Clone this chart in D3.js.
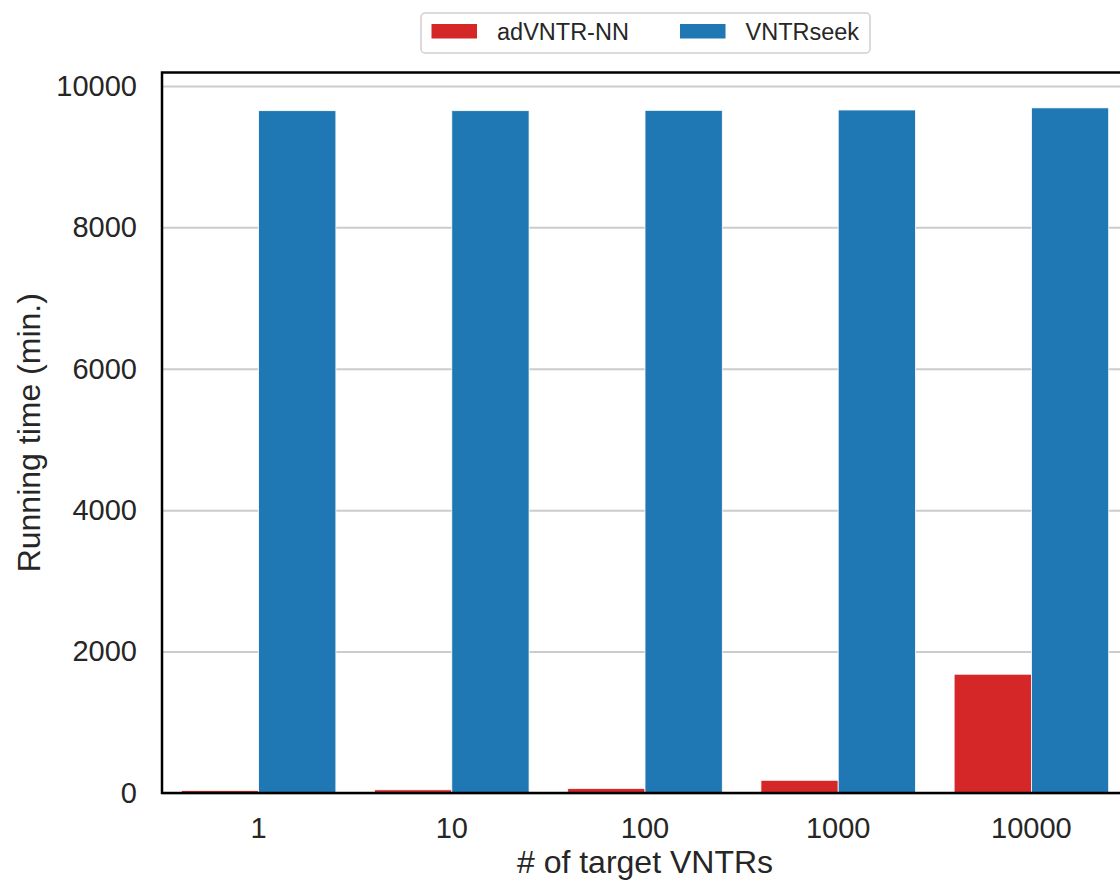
<!DOCTYPE html>
<html>
<head>
<meta charset="utf-8">
<script src="https://cdn.jsdelivr.net/npm/d3@7"></script>
<style>
  body { margin: 0; background: #fff; }
  svg { display: block; font-family: "Liberation Sans", Arial, sans-serif; }
  .tick text { fill: #262626; }
</style>
</head>
<body>
<script>
// data
const categories = ['1', '10', '100', '1000', '10000']
const series = ['adVNTR-NN', 'VNTRseek']
const adVNTR = [35, 45, 65, 180, 1680]
const vntrseek = [9650, 9650, 9655, 9660, 9690]
const yTicks = [0, 2000, 4000, 6000, 8000, 10000]
const colors = ['#d62728', '#1f77b4']

const rows = categories.map((c, i) => ({cat: c, values: [adVNTR[i], vntrseek[i]]}))

const width = 1120
const height = 884
const margin = {top: 72.5, bottom: 91, left: 162, right: -8}

const svg = d3.select('body').append('svg')
  .attr('width', width)
  .attr('height', height)

const x = d3.scaleBand()
  .domain(categories)
  .range([margin.left, width - margin.right])
  .paddingInner(0.2)
  .paddingOuter(0.1)

const xInner = d3.scaleBand()
  .domain(series)
  .range([0, x.bandwidth()])

const y = d3.scaleLinear()
  .domain([0, 10190])
  .range([height - margin.bottom, margin.top])

// gridlines
svg.append('g')
  .attr('transform', `translate(${margin.left},0)`)
  .call(d3.axisLeft(y).tickValues(yTicks).tickSize(-(width - margin.right - margin.left)).tickFormat(''))
  .call(g => g.select('.domain').remove())
  .call(g => g.selectAll('line').attr('stroke', '#cccccc').attr('stroke-width', 2))

// bars
svg.append('g').selectAll('g')
  .data(rows)
  .enter()
  .append('g')
  .attr('transform', d => `translate(${x(d.cat)},0)`)
  .selectAll('rect')
  .data(d => d.values.map((v, j) => ({key: series[j], value: v, j: j})))
  .enter()
  .append('rect')
  .attr('x', d => xInner(d.key))
  .attr('y', d => y(d.value))
  .attr('width', xInner.bandwidth())
  .attr('height', d => y(0) - y(d.value))
  .attr('fill', d => colors[d.j])
  .attr('stroke', '#fff')
  .attr('stroke-width', 0.8)

// axes
svg.append('g')
  .attr('transform', `translate(${margin.left},0)`)
  .call(d3.axisLeft(y).tickValues(yTicks).tickSize(0).tickPadding(25).tickFormat(d3.format('d')))
  .call(g => g.select('.domain').remove())
  .selectAll('text')
  .attr('font-size', 29)
  .attr('font-family', '"Liberation Sans", Arial, sans-serif')

svg.append('g')
  .attr('transform', `translate(0,${height - margin.bottom})`)
  .call(d3.axisBottom(x).tickSize(0).tickPadding(24))
  .call(g => g.select('.domain').remove())
  .selectAll('text')
  .attr('font-size', 29)
  .attr('font-family', '"Liberation Sans", Arial, sans-serif')

// spines
svg.append('rect')
  .attr('x', margin.left)
  .attr('y', margin.top)
  .attr('width', width - margin.right - margin.left)
  .attr('height', height - margin.bottom - margin.top)
  .attr('fill', 'none')
  .attr('stroke', '#000')
  .attr('stroke-width', 2.5)

// axis labels
svg.append('text')
  .attr('x', (margin.left + 1128) / 2)
  .attr('y', 873)
  .attr('text-anchor', 'middle')
  .attr('font-size', 32)
  .attr('fill', '#262626')
  .text('# of target VNTRs')

svg.append('text')
  .attr('transform', `translate(40,${(margin.top + height - margin.bottom) / 2}) rotate(-90)`)
  .attr('text-anchor', 'middle')
  .attr('font-size', 32)
  .attr('fill', '#262626')
  .text('Running time (min.)')

// legend
const legend = svg.append('g')

legend.append('rect')
  .attr('x', 421)
  .attr('y', 13)
  .attr('width', 449)
  .attr('height', 40)
  .attr('rx', 4)
  .attr('fill', '#fff')
  .attr('stroke', '#d0d0d0')
  .attr('stroke-width', 1.5)

const legendX = [431.5, 680]
series.forEach((s, i) => {
  legend.append('rect')
    .attr('x', legendX[i])
    .attr('y', 24)
    .attr('width', 45.5)
    .attr('height', 14.5)
    .attr('fill', colors[i])
  legend.append('text')
    .attr('x', legendX[i] + 65.5)
    .attr('y', 40)
    .attr('font-size', 23.5)
    .attr('fill', '#262626')
    .text(s)
})
</script>
</body>
</html>
